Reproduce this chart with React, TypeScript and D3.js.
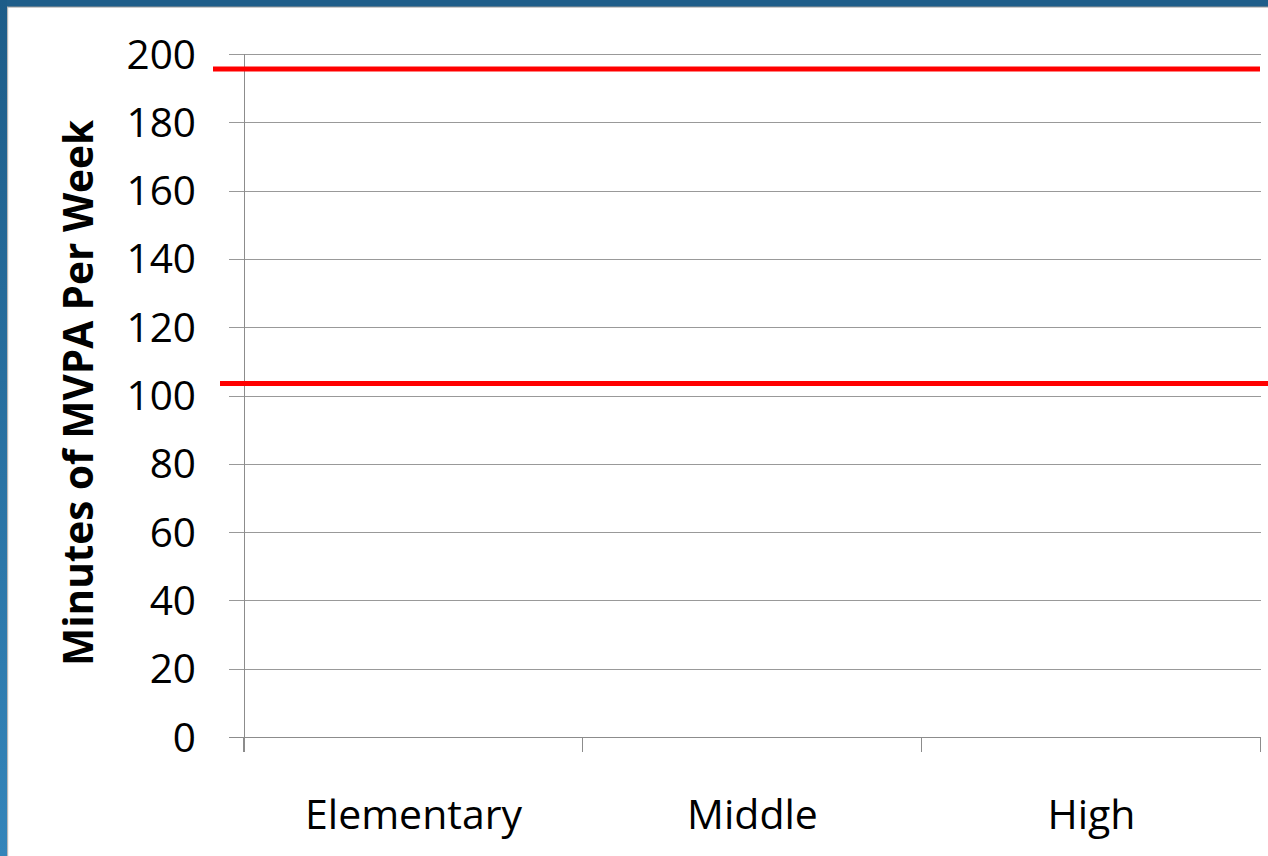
import React from "react";
import * as d3 from "d3";

// Chart content
const categories = ["Elementary", "Middle", "High"];
const yTicks = [0, 20, 40, 60, 80, 100, 120, 140, 160, 180, 200];
const yDomain = [0, 200];
const referenceValues = [195.6, 103.5];
const yTitle = "Minutes of MVPA Per Week";

const W = 1268;
const H = 856;
const margin = { left: 244, right: 7, top: 54, bottom: 119 };
const FONT = "'Open Sans', 'Liberation Sans', sans-serif";

export default function App() {
  const x = d3
    .scaleBand()
    .domain(categories)
    .range([margin.left, W - margin.right])
    .paddingInner(0)
    .paddingOuter(0);
  const y = d3
    .scaleLinear()
    .domain(yDomain)
    .range([H - margin.bottom, margin.top]);

  const x0 = margin.left;
  const x1 = W - margin.right;
  const yBase = y(0);
  const catEdges = [...categories.map((c) => x(c)!), x1];

  // reference line extents (slightly offset freehand lines)
  const refExtents = [
    [x0 - 31, x1 - 1],
    [x0 - 24, W + 2],
  ];

  return (
    <svg
      width={W}
      height={H}
      style={{ position: "absolute", left: 0, top: 0, background: "#fff" }}
    >
      <defs>
        <linearGradient id="sideBand" x1="0" y1="0" x2="0" y2="1">
          <stop offset="0" stopColor="#1d5c88" />
          <stop offset="1" stopColor="#3485ba" />
        </linearGradient>
        <filter id="shadowBlur" x="-5%" y="-200%" width="110%" height="500%">
          <feGaussianBlur stdDeviation="0.7" />
        </filter>
      </defs>

      {/* frame */}
      <rect x={0} y={0} width={W} height={H} fill="#fff" />
      <rect x={0} y={6} width={W} height={1.5} fill="#9a9a9a" />
      <rect x={7} y={0} width={1.2} height={H} fill="#b8b8b8" />
      <rect x={0} y={0} width={W} height={6.5} fill="#1f5e8a" />
      <rect x={0} y={0} width={7} height={H} fill="url(#sideBand)" />

      {/* gridlines with left tick stubs */}
      {yTicks.map((t) => (
        <line
          key={t}
          x1={x0 - 15}
          x2={x1}
          y1={Math.round(y(t)) + 0.5}
          y2={Math.round(y(t)) + 0.5}
          stroke={t === 0 ? "#8c8c8c" : "#999"}
          strokeWidth={1}
        />
      ))}

      {/* vertical axis */}
      <line
        x1={x0 + 0.5}
        x2={x0 + 0.5}
        y1={y(200)}
        y2={yBase + 15}
        stroke="#8c8c8c"
      />
      {/* category boundary ticks */}
      {catEdges.map((cx, i) => (
        <line
          key={i}
          x1={Math.round(cx) - 0.5}
          x2={Math.round(cx) - 0.5}
          y1={yBase}
          y2={yBase + 15}
          stroke="#8c8c8c"
        />
      ))}

      {/* tick labels */}
      {yTicks.map((t) => (
        <text
          key={t}
          x={196}
          y={y(t) + 14.5}
          textAnchor="end"
          fontFamily={FONT}
          fontSize={40.5}
          fill="#000"
        >
          {t}
        </text>
      ))}
      {categories.map((c) => (
        <text
          key={c}
          x={x(c)! + x.bandwidth() / 2}
          y={829}
          textAnchor="middle"
          fontFamily={FONT}
          fontSize={41}
          fill="#000"
        >
          {c}
        </text>
      ))}

      {/* axis title */}
      <text
        transform={`translate(93, 393) rotate(-90)`}
        textAnchor="middle"
        fontFamily={FONT}
        fontWeight="bold"
        fontSize={40.5}
        fill="#000"
      >
        {yTitle}
      </text>

      {/* reference lines with a soft drop shadow */}
      {referenceValues.map((v, i) => (
        <g key={v}>
          <line
            x1={refExtents[i][0]}
            x2={refExtents[i][1]}
            y1={y(v) + 3.5}
            y2={y(v) + 3.5}
            stroke="#a8a8a8"
            strokeWidth={4}
            filter="url(#shadowBlur)"
          />
          <line
            x1={refExtents[i][0]}
            x2={refExtents[i][1]}
            y1={y(v)}
            y2={y(v)}
            stroke="#ff0000"
            strokeWidth={5}
          />
        </g>
      ))}
    </svg>
  );
}
